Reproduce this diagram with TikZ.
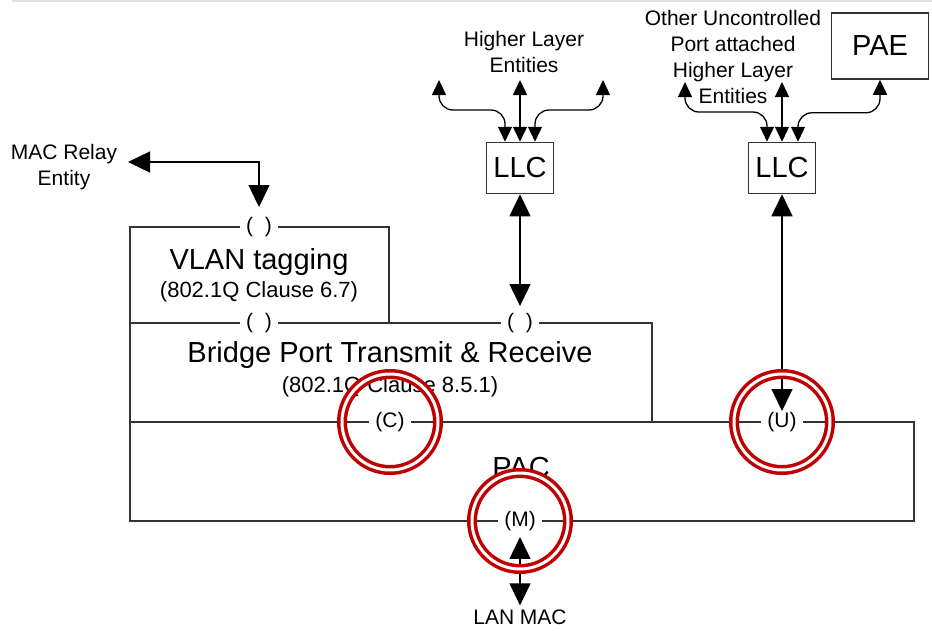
\documentclass[tikz,border=0pt]{standalone}
\usepackage{fontspec}
\setmainfont{Liberation Sans}
\usetikzlibrary{arrows.meta}
\definecolor{ringred}{RGB}{192,0,0}

\begin{document}
\begin{tikzpicture}[x=1pt, y=-1pt,
	box/.style={draw=black!80, line width=1.5pt},
	lbl/.style={font=\fontsize{21}{26}\selectfont, align=center, inner sep=0pt},
	title/.style={font=\fontsize{29}{33}\selectfont, inner sep=0pt},
	clause/.style={font=\fontsize{22}{26}\selectfont, inner sep=0pt},
	port/.style={font=\fontsize{21}{25}\selectfont, fill=white, inner xsep=6pt, inner ysep=1pt},
	unit/.style={draw=black!80, line width=1.5pt, font=\fontsize{29}{33}\selectfont},
	bigarr/.style={line width=1.3pt, {Triangle[length=22pt,width=21pt]}-{Triangle[length=22pt,width=21pt]}},
	smallarr/.style={line width=1.3pt, {Triangle[length=15pt,width=14pt]}-{Triangle[length=15pt,width=14pt]}},
	ring/.style={draw=ringred, line width=3.5pt, double=white, double distance=3pt}]
	\useasboundingbox (0,0) rectangle (932,630);
	\draw[black!12, line width=2pt] (12,1) -- (932,1);
	
	\node[lbl] (relay) at (64,167) {MAC Relay\\Entity};
	\node[lbl] (hle) at (524,52) {Higher Layer\\Entities};
	\node[lbl] (other) at (733,57) {Other Uncontrolled\\Port attached\\Higher Layer\\Entities};
	\node[unit, minimum width=67, minimum height=51] (llcA) at (520,168) {LLC};
	\node[unit, minimum width=67, minimum height=51] (llcB) at (782,168) {LLC};
	\node[unit, minimum width=97, minimum height=66] (pae) at (880,46) {PAE};
	
	\draw[box] (130,227) rectangle (389,323);
	\draw[box] (130,323) rectangle (652,422);
	\draw[box] (130,422) rectangle (914,521);
	
	\node[title] (vlan) at (259,262) {VLAN tagging};
	\node[clause] (vlanc) at (259,292) {(802.1Q Clause 6.7)};
	\node[title] (bptr) at (390,355) {Bridge Port Transmit \& Receive};
	\node[clause] (bptrc) at (390,387) {(802.1Q Clause 8.5.1)};
	\node[title] (pac) at (521,468) {PAC};
	\node[lbl] (lan) at (520,617) {LAN MAC};
	
	\node[port] (pVlan) at (259,227) {(\ \ )};
	\node[port] (pBr) at (259,323) {(\ \ )};
	\node[port] (pLlc) at (520,323) {(\ \ )};
	\node[port] (pC) at (390,422) {(C)};
	\node[port] (pU) at (782,422) {(U)};
	\node[port] (pM) at (520,521) {(M)};
	
	\coordinate (relayEnd) at (128,162);
	\coordinate (hlA) at (439,80);
	\coordinate (hlB) at (520,80);
	\coordinate (hlC) at (603,80);
	\coordinate (ouA) at (685,82);
	\coordinate (ouB) at (782,82);
	
	\draw[bigarr, shorten >=9pt] (relayEnd) -| (pVlan.north);
	\draw[smallarr, rounded corners=14pt] (hlA) -- ++(0,30) -| ([xshift=-15]llcA.north);
	\draw[smallarr] (hlB) -- (llcA.north);
	\draw[smallarr, rounded corners=14pt] (hlC) -- ++(0,30) -| ([xshift=15]llcA.north);
	\draw[bigarr, shorten >=6pt] (llcA.south) -- (pLlc.north);
	\draw[smallarr, rounded corners=14pt] (ouA) -- ++(0,30) -| ([xshift=-15]llcB.north);
	\draw[smallarr] (ouB) -- (llcB.north);
	\draw[smallarr, rounded corners=14pt] (pae.south) -- ++(0,33) -| ([xshift=16]llcB.north);
	\draw[bigarr] (llcB.south) -- (pU.north);
	\draw[bigarr, shorten <=5pt, shorten >=4pt] (pM.south) -- (lan.north);
	
	\draw[ring] (pC) circle [radius=48pt];
	\draw[ring] (pU) circle [radius=48pt];
	\draw[ring] (pM) circle [radius=48pt];
\end{tikzpicture}
\end{document}
